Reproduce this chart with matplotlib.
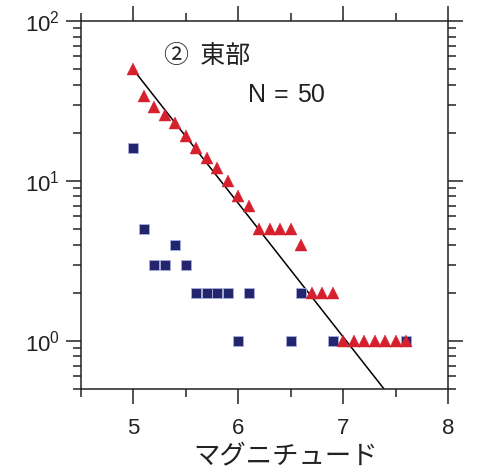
import matplotlib
matplotlib.use("Agg")
import matplotlib.pyplot as plt
import numpy as np
from matplotlib.ticker import FixedLocator, LogLocator, NullFormatter

plt.rcParams['font.family'] = ['Liberation Sans', 'Noto Sans CJK JP', 'DejaVu Sans']

# 累積数 (三角) と 個数 (四角)
mag_cum = [5.0, 5.1, 5.2, 5.3, 5.4, 5.5, 5.6, 5.7, 5.8, 5.9, 6.0, 6.1, 6.2, 6.3,
           6.4, 6.5, 6.6, 6.7, 6.8, 6.9, 7.0, 7.1, 7.2, 7.3, 7.4, 7.5, 7.6]
n_cum = [50, 34, 29, 26, 23, 19, 16, 14, 12, 10, 8, 7, 5, 5,
         5, 5, 4, 2, 2, 2, 1, 1, 1, 1, 1, 1, 1]

mag_cnt = [5.0, 5.1, 5.2, 5.3, 5.4, 5.5, 5.6, 5.7, 5.8, 5.9, 6.0, 6.1, 6.5, 6.6, 6.9, 7.6]
n_cnt = [16, 5, 3, 3, 4, 3, 2, 2, 2, 2, 1, 2, 1, 2, 1, 1]

# G-R 式 log N = a - b M
gr_a = 5.87
gr_b = 0.835
gr_m = [5.0, 7.6]

title_txt = '②  東部'
n_parts = ['N', '=', '50']
xlabel_txt = 'マグニチュード'

fig = plt.figure(figsize=(5.02, 4.72), dpi=100)
ax = fig.add_axes([0.1614, 0.1758, 0.7310, 0.7797])

line_m = np.array(gr_m)
ax.plot(line_m, 10 ** (gr_a - gr_b * line_m), color='black', lw=1.1, zorder=2)
ax.plot(mag_cnt, n_cnt, 's', ms=7.5, color='#23256e', mec='#aab0d8', mew=0.6, zorder=3)
ax.plot(mag_cum, n_cum, '^', ms=9, color='#d7202e', mec='#d7202e', mew=0.3, zorder=4)

ax.set_yscale('log')
ax.set_xlim(4.5, 8)
ax.set_ylim(0.5, 100)

ax.xaxis.set_major_locator(FixedLocator([5, 6, 7, 8]))
ax.xaxis.set_minor_locator(FixedLocator([4.5, 5.5, 6.5, 7.5]))
ax.yaxis.set_major_locator(LogLocator(base=10))
ax.yaxis.set_minor_locator(LogLocator(base=10, subs=np.arange(2, 10)))
ax.yaxis.set_minor_formatter(NullFormatter())

ax.tick_params(which='both', direction='out', top=True, right=True, width=1.1,
               labelsize=16, colors='#222222', labelcolor='#222222')
ax.tick_params(which='major', length=11)
ax.tick_params(axis='x', which='major', pad=10)
ax.tick_params(axis='y', which='major', pad=4)
ax.tick_params(which='minor', length=5.5)
for s in ax.spines.values():
    s.set_linewidth(1.1)
    s.set_color('#222222')

ax.text(0.225, 0.905, title_txt, transform=ax.transAxes, fontsize=18,
        family=['Noto Sans CJK JP', 'DejaVu Sans'], va='center', ha='left', color='#222222')

# N = 50 (狭い字体の代わりに部分ごとに配置)
for xf, part, ha in zip([248, 281, 325], n_parts, ['left', 'center', 'right']):
    fig.text(xf / 502, 1 - 95 / 472, part, fontsize=18, ha=ha, va='center', color='#222222')

fig.text(286 / 502, 1 - 457 / 472, xlabel_txt, fontsize=19, family=['Noto Sans CJK JP'],
         ha='center', va='center', color='#222222')

fig.savefig('out.png', dpi=100)
